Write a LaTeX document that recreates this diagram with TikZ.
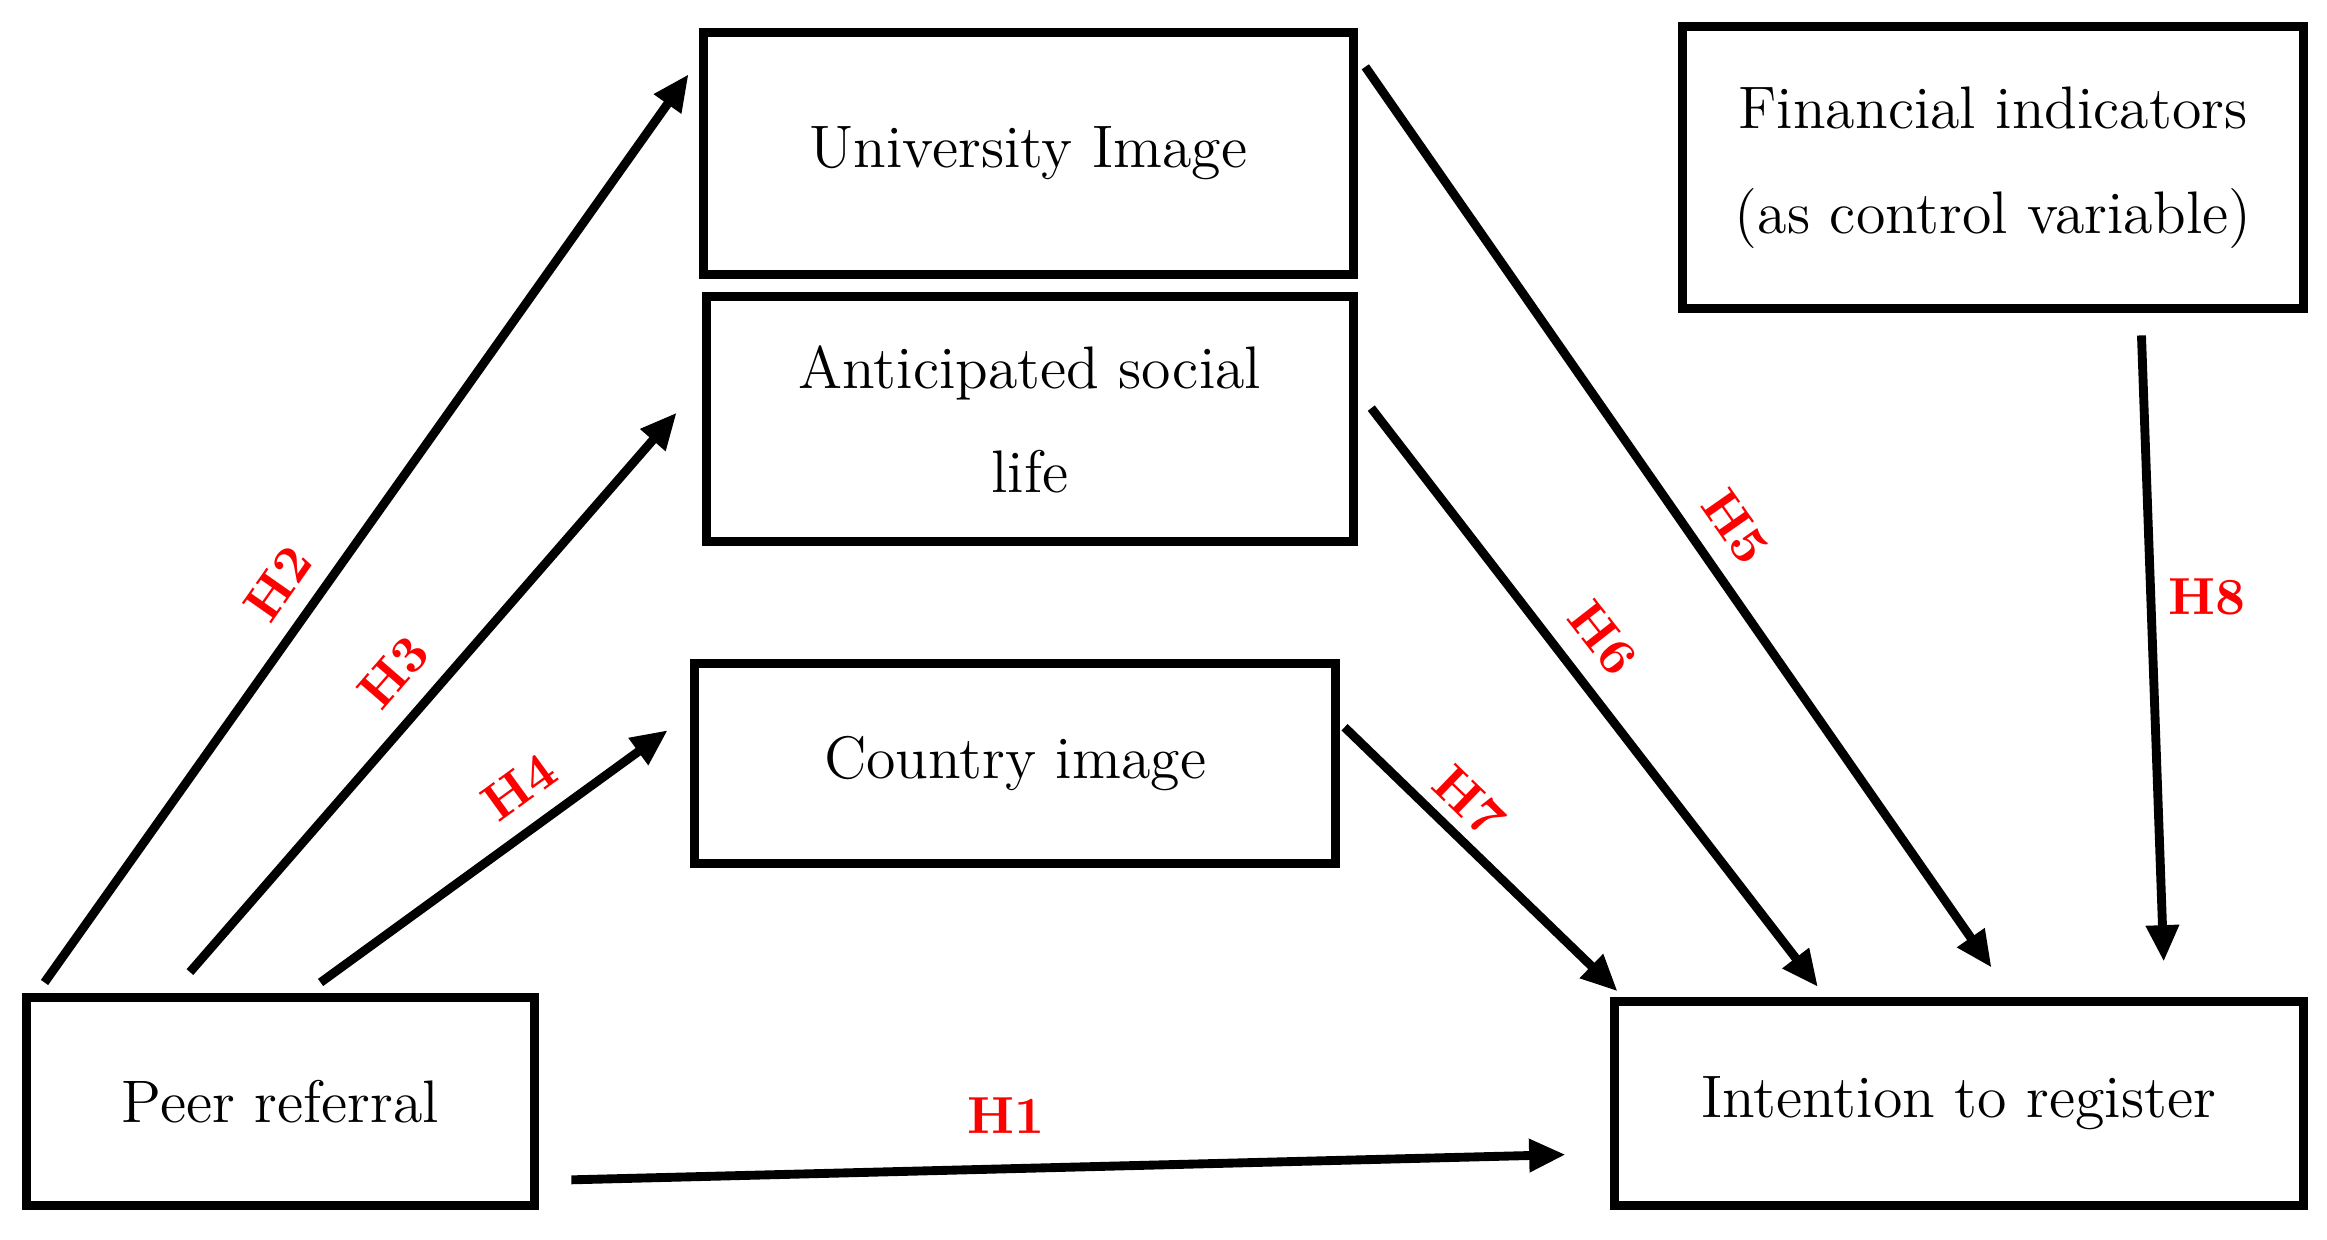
\documentclass[tikz,border=0pt]{standalone}
\usetikzlibrary{arrows.meta}
\begin{document}
\begin{tikzpicture}[x=0.01cm,y=-0.01cm,
  box/.style={draw,line width=1.7pt,font=\fontsize{11.5}{20}\selectfont,align=center},
  arr/.style={line width=1.7pt,-{Triangle[length=7pt,width=6pt]}},
  lab/.style={text=red,inner sep=0pt,font=\bfseries\fontsize{10}{12}\selectfont}]
\useasboundingbox (0,0) rectangle (1568,835);
\fill[white] (0,0) rectangle (1568,835);
\draw[box] (474,22) rectangle (912,185) node[midway,draw=none] (ui) {University Image};
\draw[box] (476,200) rectangle (912,365) node[midway,draw=none] (as) {Anticipated social\\life};
\draw[box] (468,447) rectangle (900,582) node[midway,draw=none] (ci) {Country image};
\draw[box] (1134,18) rectangle (1552,208) node[midway,draw=none] (fi) {Financial indicators\\(as control variable)};
\draw[box] (18,672) rectangle (360,812) node[midway,draw=none] (pr) {Peer referral};
\draw[box] (1088,675) rectangle (1552,812) node[midway,draw=none] (ir) {Intention to register};
\coordinate (a1) at (30,662); \coordinate (b1) at (464,50);
\coordinate (a2) at (128,655); \coordinate (b2) at (456,278);
\coordinate (a3) at (216,662); \coordinate (b3) at (450,492);
\coordinate (a4) at (920,45); \coordinate (b4) at (1342,652);
\coordinate (a5) at (924,275); \coordinate (b5) at (1225,665);
\coordinate (a6) at (906,490); \coordinate (b6) at (1090,668);
\coordinate (a7) at (1443,226); \coordinate (b7) at (1458,648);
\coordinate (a8) at (385,795); \coordinate (b8) at (1055,778);
\draw[arr] (a1) -- (b1);
\draw[arr] (a2) -- (b2);
\draw[arr] (a3) -- (b3);
\draw[arr] (a4) -- (b4);
\draw[arr] (a5) -- (b5);
\draw[arr] (a6) -- (b6);
\draw[arr] (a7) -- (b7);
\draw[arr] (a8) -- (b8);
\node[lab,rotate=55] (h2) at (187,393) {H2};
\node[lab,rotate=49] (h3) at (265,453) {H3};
\node[lab,rotate=36] (h4) at (350,530) {H4};
\node[lab,rotate=-55] (h5) at (1170,355) {H5};
\node[lab,rotate=-52] (h6) at (1080,430) {H6};
\node[lab,rotate=-44] (h7) at (990,540) {H7};
\node[lab] (h8) at (1487,402) {H8};
\node[lab] (h1) at (678,752) {H1};
\end{tikzpicture}
\end{document}
